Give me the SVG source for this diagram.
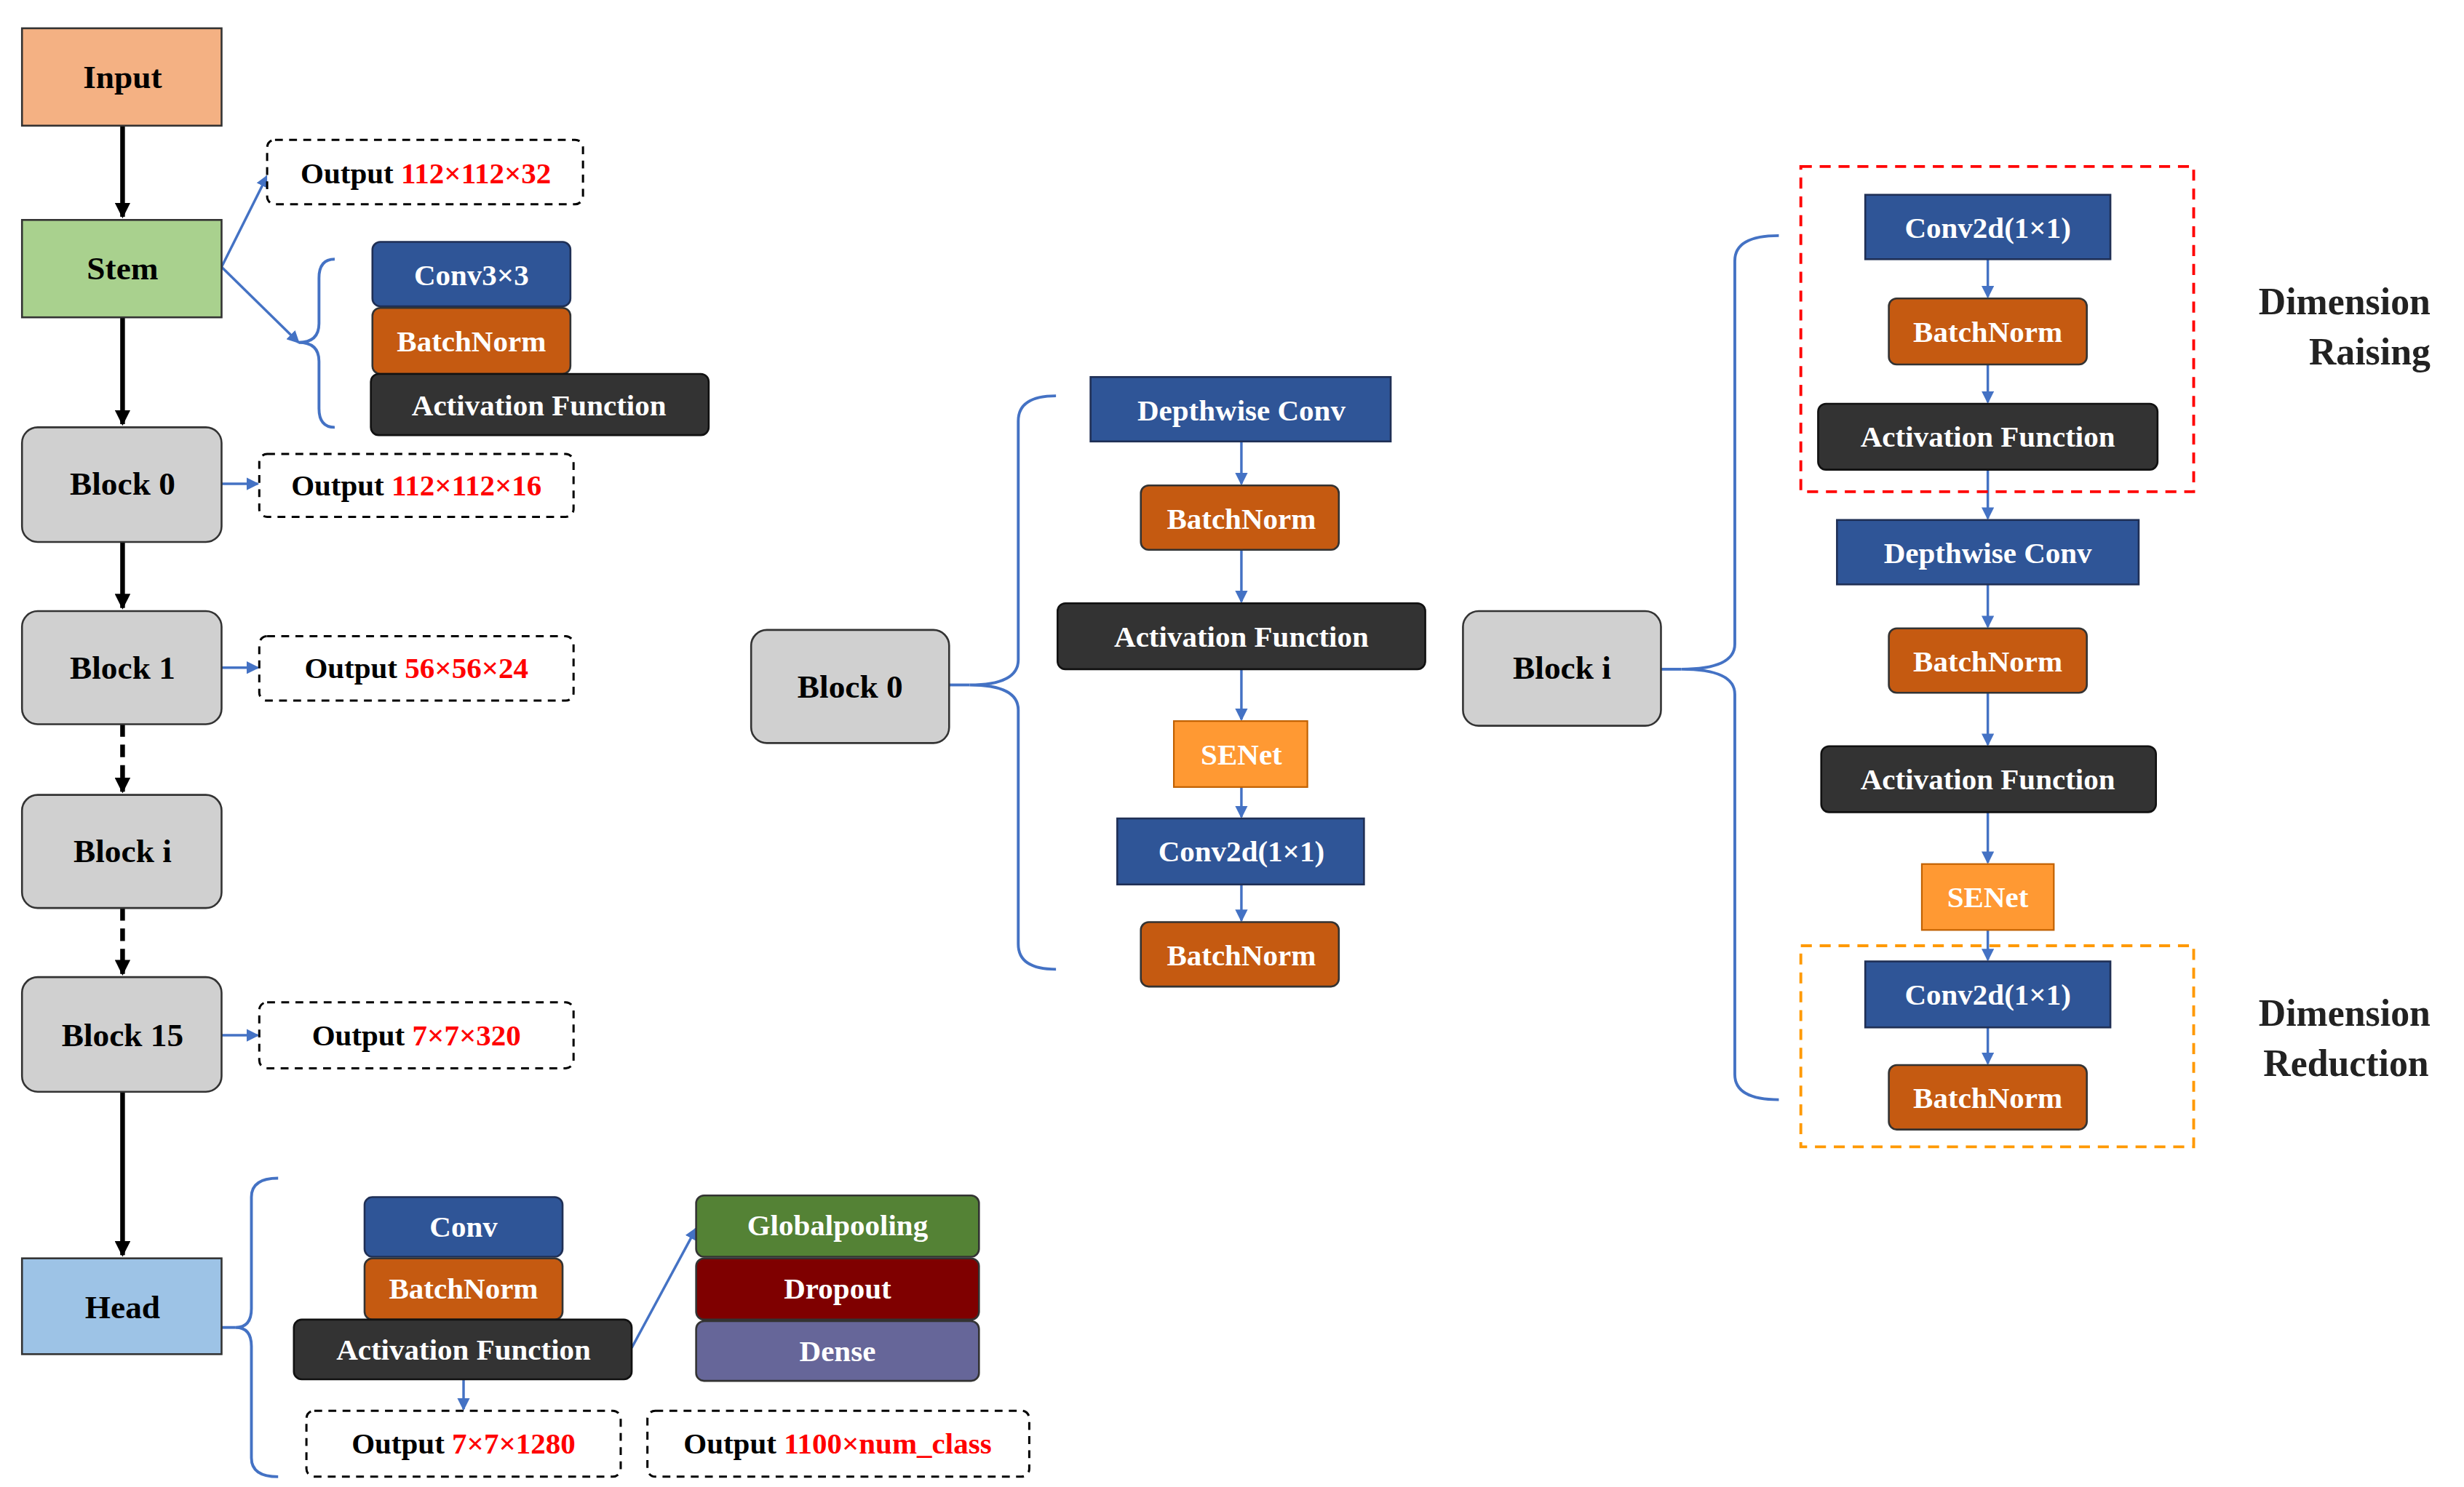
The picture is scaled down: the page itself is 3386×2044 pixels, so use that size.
<svg xmlns="http://www.w3.org/2000/svg" width="3386" height="2044" viewBox="0 0 3386 2044">
<style>
text{font-family:"Liberation Serif","DejaVu Serif",serif;font-weight:bold;text-anchor:middle;dominant-baseline:central}
.w{fill:#fff;font-size:19px}
.k{fill:#000;font-size:21px}
.o{fill:#000;font-size:19px}
.r{fill:#ff0000}
.blk{fill:#d0d0d0;stroke:#333;stroke-width:1.2}
.bl{fill:#2f5597;stroke:#1f2f55;stroke-width:1.2}
.bn{fill:#c55a11;stroke:#333;stroke-width:1.2}
.af{fill:#333;stroke:#111;stroke-width:1.2}
.se{fill:#ff9933;stroke:#c06000;stroke-width:1}
.dash{fill:#fff;stroke:#000;stroke-width:1.4;stroke-dasharray:5 4}
.ba{stroke:#4472c4;stroke-width:1.6;fill:none}
.br{stroke:#4472c4;stroke-width:1.8;fill:none}
.bk{stroke:#000;stroke-width:3;fill:none}
</style>
<defs>
<marker id="ab" markerWidth="8" markerHeight="8" refX="7" refY="4" orient="auto" markerUnits="userSpaceOnUse"><path d="M0,0L8,4L0,8z" fill="#4472c4"/></marker>
<marker id="ak" markerWidth="10" markerHeight="10" refX="9" refY="5" orient="auto" markerUnits="userSpaceOnUse"><path d="M0,0L10,5L0,10z" fill="#000"/></marker>
</defs>
<rect width="3386" height="2044" fill="#fff"/>
<g transform="scale(2.1594)">
<g id="connectors">
<path class="bk" d="M78,80V138" marker-end="url(#ak)"/>
<path class="bk" d="M78,202V270" marker-end="url(#ak)"/>
<path class="bk" d="M78,345V387" marker-end="url(#ak)"/>
<path class="bk" d="M78,461V504" stroke-dasharray="8 5" marker-end="url(#ak)"/>
<path class="bk" d="M78,578V620" stroke-dasharray="8 5" marker-end="url(#ak)"/>
<path class="bk" d="M78,695V799" marker-end="url(#ak)"/>
<path class="ba" d="M141,170L170,112" marker-end="url(#ab)"/>
<path class="ba" d="M141,170L190,218" marker-end="url(#ab)"/>
<path class="ba" d="M141,308H164" marker-end="url(#ab)"/>
<path class="ba" d="M141,425H164" marker-end="url(#ab)"/>
<path class="ba" d="M141,659H164" marker-end="url(#ab)"/>
<path class="ba" d="M402,858L443,782" marker-end="url(#ab)"/>
<path class="ba" d="M295,878V897" marker-end="url(#ab)"/>
<path class="br" d="M213,165Q203,165 203,177L203,206Q203,218 190,218Q203,218 203,230L203,260Q203,272 213,272"/>
<path class="br" d="M141,845H150"/>
<path class="br" d="M177,750Q160,750 160,762L160,833Q160,845 150,845Q160,845 160,857L160,928Q160,940 177,940"/>
<path class="br" d="M604,436H617"/>
<path class="br" d="M672,252Q648,252 648,268L648,420Q648,436 617,436Q648,436 648,452L648,601Q648,617 672,617"/>
<path class="br" d="M1057,426H1070"/>
<path class="br" d="M1132,150Q1104,150 1104,166L1104,410Q1104,426 1070,426Q1104,426 1104,442L1104,684Q1104,700 1132,700"/>
<path class="ba" d="M790,281V308" marker-end="url(#ab)"/>
<path class="ba" d="M790,350V383" marker-end="url(#ab)"/>
<path class="ba" d="M790,426V458" marker-end="url(#ab)"/>
<path class="ba" d="M790,501V520" marker-end="url(#ab)"/>
<path class="ba" d="M790,563V586" marker-end="url(#ab)"/>
<path class="ba" d="M1265,165V189" marker-end="url(#ab)"/>
<path class="ba" d="M1265,232V256" marker-end="url(#ab)"/>
<path class="ba" d="M1265,299V330" marker-end="url(#ab)"/>
<path class="ba" d="M1265,372V399" marker-end="url(#ab)"/>
<path class="ba" d="M1265,441V474" marker-end="url(#ab)"/>
<path class="ba" d="M1265,517V549" marker-end="url(#ab)"/>
<path class="ba" d="M1265,592V611" marker-end="url(#ab)"/>
<path class="ba" d="M1265,654V677" marker-end="url(#ab)"/>
</g>
<g id="input"><rect x="14" y="18" width="127" height="62" fill="#f4b183" stroke="#333" stroke-width="1.2"/><text class="k" x="78" y="49">Input</text></g>
<g id="stem"><rect x="14" y="140" width="127" height="62" fill="#a9d18e" stroke="#333" stroke-width="1.2"/><text class="k" x="78" y="171">Stem</text></g>
<g id="block0"><rect class="blk" x="14" y="272" width="127" height="73" rx="10"/><text class="k" x="78" y="308">Block 0</text></g>
<g id="block1"><rect class="blk" x="14" y="389" width="127" height="72" rx="10"/><text class="k" x="78" y="425">Block 1</text></g>
<g id="blocki"><rect class="blk" x="14" y="506" width="127" height="72" rx="10"/><text class="k" x="78" y="542">Block i</text></g>
<g id="block15"><rect class="blk" x="14" y="622" width="127" height="73" rx="10"/><text class="k" x="78" y="659">Block 15</text></g>
<g id="head"><rect x="14" y="801" width="127" height="61" fill="#9dc3e6" stroke="#333" stroke-width="1.2"/><text class="k" x="78" y="832">Head</text></g>
<g id="out1"><rect class="dash" x="170" y="89" width="201" height="41" rx="5"/><text class="o" x="271" y="110">Output <tspan class="r">112×112×32</tspan></text></g>
<g id="out2"><rect class="dash" x="165" y="289" width="200" height="40" rx="5"/><text class="o" x="265" y="309">Output <tspan class="r">112×112×16</tspan></text></g>
<g id="out3"><rect class="dash" x="165" y="405" width="200" height="41" rx="5"/><text class="o" x="265" y="425">Output <tspan class="r">56×56×24</tspan></text></g>
<g id="out4"><rect class="dash" x="165" y="638" width="200" height="42" rx="5"/><text class="o" x="265" y="659">Output <tspan class="r">7×7×320</tspan></text></g>
<g id="out5"><rect class="dash" x="195" y="898" width="200" height="42" rx="5"/><text class="o" x="295" y="919">Output <tspan class="r">7×7×1280</tspan></text></g>
<g id="out6"><rect class="dash" x="412" y="898" width="243" height="42" rx="5"/><text class="o" x="533" y="919">Output <tspan class="r">1100×num_class</tspan></text></g>
<g id="stem-conv"><rect class="bl" x="237" y="154" width="126" height="41" rx="5"/><text class="w" x="300" y="175">Conv3×3</text></g>
<g id="stem-bn"><rect class="bn" x="237" y="196" width="126" height="42" rx="5"/><text class="w" x="300" y="217">BatchNorm</text></g>
<g id="stem-af"><rect class="af" x="236" y="238" width="215" height="39" rx="5"/><text class="w" x="343" y="258">Activation Function</text></g>
<g id="head-conv"><rect class="bl" x="232" y="762" width="126" height="38" rx="5"/><text class="w" x="295" y="781">Conv</text></g>
<g id="head-bn"><rect class="bn" x="232" y="801" width="126" height="39" rx="5"/><text class="w" x="295" y="820">BatchNorm</text></g>
<g id="head-af"><rect class="af" x="187" y="840" width="215" height="38" rx="5"/><text class="w" x="295" y="859">Activation Function</text></g>
<g id="gp"><rect x="443" y="761" width="180" height="39" rx="5" fill="#548235" stroke="#333" stroke-width="1.2"/><text class="w" x="533" y="780">Globalpooling</text></g>
<g id="dropout"><rect x="443" y="801" width="180" height="39" rx="5" fill="#7f0000" stroke="#333" stroke-width="1.2"/><text class="w" x="533" y="820">Dropout</text></g>
<g id="dense"><rect x="443" y="841" width="180" height="38" rx="5" fill="#666699" stroke="#333" stroke-width="1.2"/><text class="w" x="533" y="860">Dense</text></g>
<g id="m-block0"><rect class="blk" x="478" y="401" width="126" height="72" rx="10"/><text class="k" x="541" y="437">Block 0</text></g>
<g id="m-dw"><rect class="bl" x="694" y="240" width="191" height="41"/><text class="w" x="790" y="261">Depthwise Conv</text></g>
<g id="m-bn1"><rect class="bn" x="726" y="309" width="126" height="41" rx="5"/><text class="w" x="790" y="330">BatchNorm</text></g>
<g id="m-af"><rect class="af" x="673" y="384" width="234" height="42" rx="5"/><text class="w" x="790" y="405">Activation Function</text></g>
<g id="m-se"><rect class="se" x="747" y="459" width="85" height="42"/><text class="w" x="790" y="480">SENet</text></g>
<g id="m-conv"><rect class="bl" x="711" y="521" width="157" height="42"/><text class="w" x="790" y="542">Conv2d(1×1)</text></g>
<g id="m-bn2"><rect class="bn" x="726" y="587" width="126" height="41" rx="5"/><text class="w" x="790" y="608">BatchNorm</text></g>
<g id="r-blocki"><rect class="blk" x="931" y="389" width="126" height="73" rx="10"/><text class="k" x="994" y="425">Block i</text></g>
<g id="raise-box"><rect x="1146" y="106" width="250" height="207" fill="none" stroke="#ff0000" stroke-width="1.8" stroke-dasharray="7 5"/></g>
<g id="reduce-box"><rect x="1146" y="602" width="250" height="128" fill="none" stroke="#ff9900" stroke-width="1.8" stroke-dasharray="7 5"/></g>
<g id="r-conv1"><rect class="bl" x="1187" y="124" width="156" height="41"/><text class="w" x="1265" y="145">Conv2d(1×1)</text></g>
<g id="r-bn1"><rect class="bn" x="1202" y="190" width="126" height="42" rx="5"/><text class="w" x="1265" y="211">BatchNorm</text></g>
<g id="r-af1"><rect class="af" x="1157" y="257" width="216" height="42" rx="5"/><text class="w" x="1265" y="278">Activation Function</text></g>
<g id="r-dw"><rect class="bl" x="1169" y="331" width="192" height="41"/><text class="w" x="1265" y="352">Depthwise Conv</text></g>
<g id="r-bn2"><rect class="bn" x="1202" y="400" width="126" height="41" rx="5"/><text class="w" x="1265" y="421">BatchNorm</text></g>
<g id="r-af2"><rect class="af" x="1159" y="475" width="213" height="42" rx="5"/><text class="w" x="1265" y="496">Activation Function</text></g>
<g id="r-se"><rect class="se" x="1223" y="550" width="84" height="42"/><text class="w" x="1265" y="571">SENet</text></g>
<g id="r-conv2"><rect class="bl" x="1187" y="612" width="156" height="42"/><text class="w" x="1265" y="633">Conv2d(1×1)</text></g>
<g id="r-bn3"><rect class="bn" x="1202" y="678" width="126" height="41" rx="5"/><text class="w" x="1265" y="699">BatchNorm</text></g>
<g id="lbl-raise"><text x="1492" y="192" font-size="24" fill="#222">Dimension</text><text x="1508" y="224" font-size="24" fill="#222">Raising</text></g>
<g id="lbl-reduce"><text x="1492" y="645" font-size="24" fill="#222">Dimension</text><text x="1493" y="677" font-size="24" fill="#222">Reduction</text></g>
</g>
</svg>
